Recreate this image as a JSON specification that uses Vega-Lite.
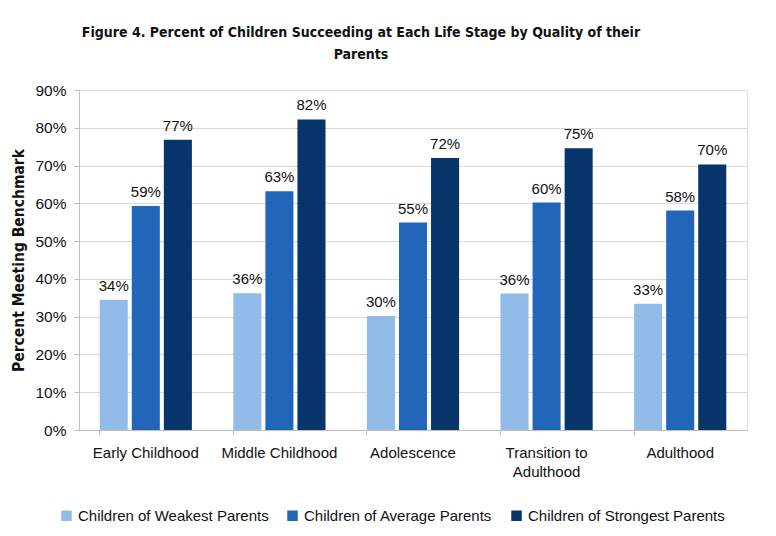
{
  "$schema": "https://vega.github.io/schema/vega-lite/v6.json",
  "width": 668,
  "height": 340,
  "autosize": "none",
  "padding": {"left": 79, "top": 90, "right": 29, "bottom": 106},
  "background": "white",
  "title": {
    "text": ["Figure 4. Percent of Children Succeeding at Each Life Stage by Quality of their", "Parents"],
    "anchor": "middle",
    "frame": "group",
    "dx": -52,
    "offset": 21,
    "font": "DejaVu Sans Condensed, Liberation Sans",
    "fontSize": 14,
    "fontWeight": "bold",
    "lineHeight": 22,
    "color": "#111111"
  },
  "data": {
    "values": [
      {"stage": "Early Childhood", "group": "Children of Weakest Parents", "value": 0.345, "label": "34%"},
      {"stage": "Early Childhood", "group": "Children of Average Parents", "value": 0.593, "label": "59%"},
      {"stage": "Early Childhood", "group": "Children of Strongest Parents", "value": 0.768, "label": "77%"},
      {"stage": "Middle Childhood", "group": "Children of Weakest Parents", "value": 0.362, "label": "36%"},
      {"stage": "Middle Childhood", "group": "Children of Average Parents", "value": 0.632, "label": "63%"},
      {"stage": "Middle Childhood", "group": "Children of Strongest Parents", "value": 0.822, "label": "82%"},
      {"stage": "Adolescence", "group": "Children of Weakest Parents", "value": 0.302, "label": "30%"},
      {"stage": "Adolescence", "group": "Children of Average Parents", "value": 0.549, "label": "55%"},
      {"stage": "Adolescence", "group": "Children of Strongest Parents", "value": 0.72, "label": "72%"},
      {"stage": "Transition to Adulthood", "group": "Children of Weakest Parents", "value": 0.361, "label": "36%"},
      {"stage": "Transition to Adulthood", "group": "Children of Average Parents", "value": 0.602, "label": "60%"},
      {"stage": "Transition to Adulthood", "group": "Children of Strongest Parents", "value": 0.746, "label": "75%"},
      {"stage": "Adulthood", "group": "Children of Weakest Parents", "value": 0.334, "label": "33%"},
      {"stage": "Adulthood", "group": "Children of Average Parents", "value": 0.581, "label": "58%"},
      {"stage": "Adulthood", "group": "Children of Strongest Parents", "value": 0.703, "label": "70%"}
    ]
  },
  "encoding": {
    "x": {
      "field": "stage",
      "type": "nominal",
      "sort": null,
      "scale": {"paddingInner": 0.31, "paddingOuter": 0.155},
      "axis": {
        "title": null,
        "labelAngle": 0,
        "labelFont": "Liberation Sans",
        "labelFontSize": 15,
        "labelColor": "#111111",
        "labelPadding": 10,
        "labelLineHeight": 19,
        "labelExpr": "datum.label == 'Transition to Adulthood' ? ['Transition to', 'Adulthood'] : datum.label",
        "bandPosition": 0,
        "domainColor": "#bfbfbf",
        "tickColor": "#bfbfbf",
        "tickSize": 5,
        "grid": false
      }
    },
    "xOffset": {
      "field": "group",
      "type": "nominal",
      "sort": null,
      "scale": {"paddingInner": 0.125}
    },
    "y": {
      "field": "value",
      "type": "quantitative",
      "scale": {"domain": [0, 0.9]},
      "axis": {
        "title": "Percent Meeting Benchmark",
        "titleFont": "DejaVu Sans Condensed, Liberation Sans",
        "titleFontSize": 15.5,
        "titleFontWeight": "bold",
        "titleColor": "#111111",
        "titlePadding": 8,
        "format": ".0%",
        "values": [0, 0.1, 0.2, 0.3, 0.4, 0.5, 0.6, 0.7, 0.8, 0.9],
        "labelFont": "Liberation Sans",
        "labelFontSize": 15.5,
        "labelColor": "#111111",
        "labelPadding": 8,
        "domainColor": "#bfbfbf",
        "tickColor": "#bfbfbf",
        "tickSize": 5,
        "grid": true,
        "gridColor": "#d9d9d9"
      }
    }
  },
  "layer": [
    {
      "mark": {"type": "bar"},
      "encoding": {
        "color": {
          "field": "group",
          "type": "nominal",
          "sort": null,
          "scale": {
            "domain": ["Children of Weakest Parents", "Children of Average Parents", "Children of Strongest Parents"],
            "range": ["#93bbea", "#2266ba", "#07346a"]
          },
          "legend": {
            "title": null,
            "orient": "none",
            "direction": "horizontal",
            "legendX": -20,
            "legendY": 418,
            "symbolType": "square",
            "symbolSize": 110,
            "symbolStrokeWidth": 0,
            "labelFont": "Liberation Sans",
            "labelFontSize": 15,
            "labelColor": "#111111",
            "labelOffset": 4,
            "columnPadding": 16,
            "labelLimit": 300
          }
        }
      }
    },
    {
      "mark": {"type": "text", "baseline": "bottom", "dy": -6, "font": "Liberation Sans", "fontSize": 15, "color": "#111111"},
      "encoding": {
        "text": {"field": "label"}
      }
    }
  ]
}
